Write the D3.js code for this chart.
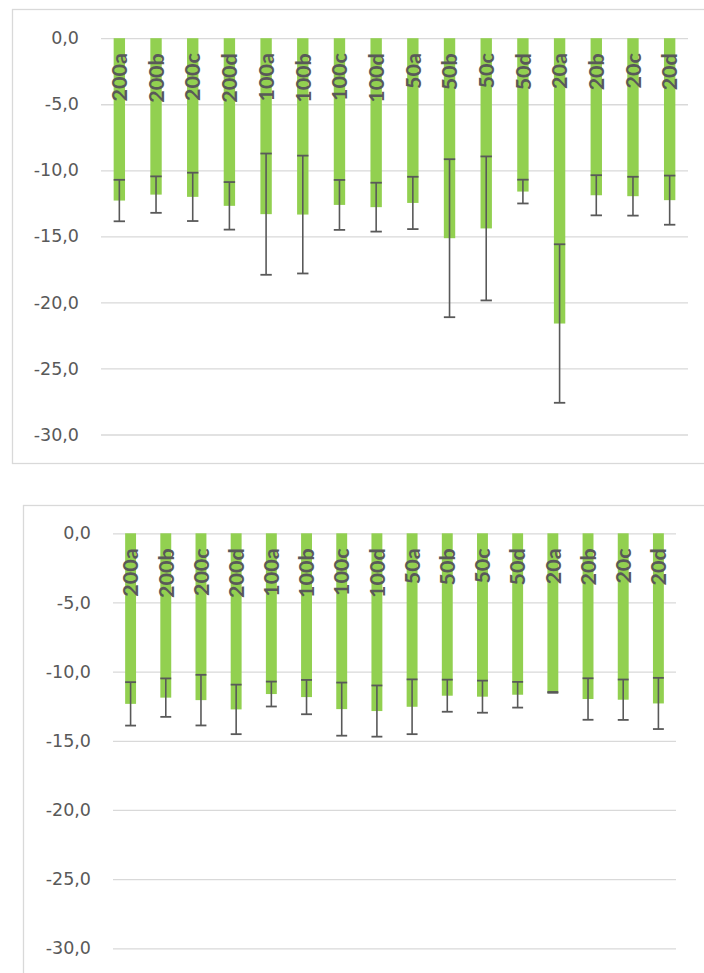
<!DOCTYPE html>
<html>
<head>
<meta charset="utf-8">
<script src="https://cdn.jsdelivr.net/npm/d3@7"></script>
<style>
  html, body { margin: 0; padding: 0; background: #fff; }
  svg { display: block; }
</style>
</head>
<body>
<svg id="chart" width="704" height="973"></svg>
<script>
// ---- data ----
const categories = ["200a","200b","200c","200d","100a","100b","100c","100d","50a","50b","50c","50d","20a","20b","20c","20d"];
const yTicks = [0, -5, -10, -15, -20, -25, -30];

// chart 1 (top)
const valuesTop = [-12.29, -11.84, -12.01, -12.69, -13.32, -13.35, -12.62, -12.79, -12.47, -15.14, -14.40, -11.61, -21.60, -11.89, -11.96, -12.26];
const errorsTop = [1.57, 1.38, 1.83, 1.80, 4.59, 4.46, 1.89, 1.85, 1.98, 5.98, 5.45, 0.90, 6.00, 1.52, 1.47, 1.86];

// chart 2 (bottom)
const valuesBottom = [-12.33, -11.88, -12.06, -12.73, -11.62, -11.84, -12.71, -12.85, -12.54, -11.74, -11.81, -11.67, -11.50, -11.98, -12.03, -12.30];
const errorsBottom = [1.57, 1.39, 1.83, 1.79, 0.90, 1.24, 1.92, 1.85, 1.98, 1.16, 1.16, 0.93, 0.03, 1.50, 1.46, 1.85];

// ---- layout ----
const svg = d3.select("#chart");
const locale = d3.formatLocale({decimal: ",", thousands: ".", grouping: [3], currency: ["", ""], minus: "-"});
const fmt = locale.format(".1f");

const GRID = "#d9d9d9", TEXT = "#595959", BAR = "#92D050";

function drawChart(cfg, values, errors) {
  const g = svg.append("g");
  // frame
  g.append("rect")
    .attr("x", cfg.frame[0]).attr("y", cfg.frame[1])
    .attr("width", cfg.frame[2]).attr("height", cfg.frame[3])
    .attr("fill", "none").attr("stroke", GRID).attr("stroke-width", 1.3);

  const y = d3.scaleLinear().domain([0, -30]).range([cfg.y0, cfg.y30]);
  const x = d3.scaleBand().domain(categories).range([cfg.left, cfg.right]).padding(0);
  const barW = x.bandwidth() * 0.31;

  // axis with gridlines
  const axis = d3.axisLeft(y).tickValues(yTicks).tickFormat(fmt)
    .tickSize(-(cfg.right - cfg.left)).tickPadding(cfg.left - cfg.labelRight);
  const ag = g.append("g").attr("transform", `translate(${cfg.left},0)`).call(axis);
  ag.select(".domain").remove();
  ag.selectAll(".tick line").attr("stroke", GRID).attr("stroke-width", 1.3);
  ag.selectAll(".tick text")
    .attr("fill", TEXT)
    .style("font-family", "'DejaVu Sans', sans-serif")
    .style("font-size", "17.5px");

  const data = categories.map((c, i) => ({c, v: values[i], e: errors[i]}));

  // bars
  g.append("g").selectAll("rect").data(data).join("rect")
    .attr("x", d => x(d.c) + x.bandwidth() / 2 - barW / 2)
    .attr("y", y(0))
    .attr("width", barW)
    .attr("height", d => y(d.v) - y(0))
    .attr("fill", BAR);

  // error bars
  const eb = g.append("g").attr("stroke", "#595959").attr("fill", "none");
  data.forEach(d => {
    const cx = x(d.c) + x.bandwidth() / 2;
    const yt = y(d.v + d.e), yb = y(d.v - d.e);
    eb.append("line").attr("x1", cx).attr("x2", cx).attr("y1", yt).attr("y2", yb).attr("stroke-width", 1.6);
    eb.append("line").attr("x1", cx - barW / 2).attr("x2", cx + barW / 2).attr("y1", yt).attr("y2", yt).attr("stroke-width", 1.8);
    eb.append("line").attr("x1", cx - barW / 2).attr("x2", cx + barW / 2).attr("y1", yb).attr("y2", yb).attr("stroke-width", 1.8);
  });

  // category labels inside bars (rotated)
  g.append("g").selectAll("text").data(data).join("text")
    .attr("transform", d => `translate(${x(d.c) + x.bandwidth() / 2},${y(0) + 15}) rotate(-90)`)
    .attr("text-anchor", "end")
    .attr("dy", "0.36em")
    .attr("fill", TEXT)
    .style("font-family", "Lato, 'Liberation Sans', sans-serif")
    .style("font-weight", "bold")
    .style("font-size", "21.5px")
    .text(d => d.c);
}

drawChart({frame: [12.5, 9.5, 720, 454], left: 101, right: 688, y0: 38.2, y30: 434.5, labelRight: 79}, valuesTop, errorsTop);
drawChart({frame: [23.5, 505.5, 720, 500], left: 113, right: 676, y0: 533.3, y30: 948.3, labelRight: 91}, valuesBottom, errorsBottom);
</script>
</body>
</html>
